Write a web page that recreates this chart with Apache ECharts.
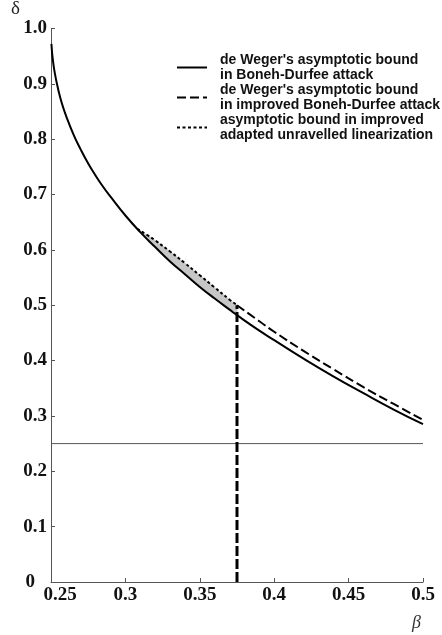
<!DOCTYPE html>
<html>
<head>
<meta charset="utf-8">
<script src="https://cdn.jsdelivr.net/npm/echarts@6/dist/echarts.min.js"></script>
<style>
html,body{margin:0;padding:0;background:#fff;}
#chart{width:442px;height:635px;}
</style>
</head>
<body>
<div id="chart"></div>
<script>
// de Weger's asymptotic bound in Boneh-Durfee attack (solid)
const betaSolid  = [0.2503, 0.2505, 0.251, 0.2525, 0.255, 0.2575, 0.26, 0.265, 0.27, 0.275, 0.28, 0.285, 0.29, 0.30, 0.31, 0.32, 0.33, 0.34, 0.35, 0.36, 0.37, 0.375, 0.39, 0.40, 0.42, 0.44, 0.46, 0.48, 0.50];
const deltaSolid = [0.972, 0.964, 0.949, 0.920, 0.888, 0.863, 0.843, 0.809, 0.781, 0.756, 0.734, 0.714, 0.696, 0.662, 0.632, 0.605, 0.579, 0.556, 0.533, 0.512, 0.492, 0.482, 0.454, 0.437, 0.403, 0.371, 0.341, 0.312, 0.285];
// de Weger's asymptotic bound in improved Boneh-Durfee attack (dashed)
const betaDashed  = [0.375, 0.39, 0.40, 0.42, 0.44, 0.46, 0.48, 0.50];
const deltaDashed = [0.500, 0.471, 0.452, 0.417, 0.384, 0.352, 0.322, 0.293];
// asymptotic bound in improved adapted unravelled linearization (dotted)
const betaDotted  = [0.308, 0.315, 0.32, 0.33, 0.34, 0.35, 0.36, 0.37, 0.375];
const deltaDotted = [0.638, 0.626, 0.617, 0.597, 0.576, 0.554, 0.532, 0.510, 0.500];
// lower edge of the shaded region (solid curve at the same beta values)
const deltaShadeLower = [0.638, 0.618, 0.605, 0.579, 0.556, 0.533, 0.512, 0.492, 0.482];
// reference lines
const betaVertical  = [0.375, 0.375];
const deltaVertical = [0, 0.500];
const betaHorizontal  = [0.25, 0.50];
const deltaHorizontal = [0.25, 0.25];
// legend names
const seriesNames = [
  "de Weger's asymptotic bound\nin Boneh-Durfee attack",
  "de Weger's asymptotic bound\nin improved Boneh-Durfee attack",
  "asymptotic bound in improved\nadapted unravelled linearization"
];

const pairs = (xs, ys) => xs.map((x, i) => [x, ys[i]]);
const serif = "'Liberation Serif', 'Times New Roman', serif";
const sans = "'Liberation Sans', Arial, sans-serif";

const chart = echarts.init(document.getElementById('chart'), null, {renderer: 'canvas'});
chart.setOption({
  animation: false,
  backgroundColor: '#fff',
  grid: {left: 51, right: 19, top: 26, bottom: 53, containLabel: false},
  legend: {
    orient: 'vertical',
    left: 176, top: 45,
    padding: 0,
    itemGap: -15,
    itemWidth: 30, itemHeight: 14,
    icon: 'inherit',
    itemStyle: {color: 'rgba(0,0,0,0)', borderWidth: 0},
    data: seriesNames,
    selectedMode: false,
    textStyle: {fontFamily: sans, fontWeight: 'bold', fontSize: 14, lineHeight: 15, color: '#111', padding: [15, 0, 0, 8]}
  },
  xAxis: {
    type: 'value', min: 0.25, max: 0.5, interval: 0.05,
    name: 'β', nameLocation: 'end', nameGap: -11,
    nameTextStyle: {fontFamily: serif, fontStyle: 'italic', fontSize: 18, color: '#333', verticalAlign: 'top', padding: [32, 0, 0, 0]},
    axisLine: {lineStyle: {color: '#555', width: 1}},
    axisTick: {inside: true, length: 4, lineStyle: {color: '#555'}},
    splitLine: {show: false},
    axisLabel: {
      margin: 4,
      fontFamily: serif, fontWeight: 'bold', fontSize: 19, color: '#111',
      formatter: v => { const s = String(+v.toFixed(2)); return Math.abs(v - 0.25) < 1e-9 ? '{first|' + s + '}' : s; },
      rich: {first: {fontFamily: serif, fontWeight: 'bold', fontSize: 19, color: '#111', padding: [0, 0, 0, 18]}}
    }
  },
  yAxis: {
    type: 'value', min: 0, max: 1, interval: 0.1,
    name: 'δ', nameLocation: 'end', nameGap: 2,
    nameTextStyle: {fontFamily: serif, fontSize: 19, color: '#222', align: 'right', padding: [0, 31, 0, 0]},
    axisLine: {show: true, lineStyle: {color: '#555', width: 1}},
    axisTick: {show: true, inside: true, length: 4, lineStyle: {color: '#555'}},
    splitLine: {show: false},
    axisLabel: {
      margin: 4,
      fontFamily: serif, fontWeight: 'bold', fontSize: 19, color: '#111',
      formatter: v => v === 0 ? '{zero|0}' : v.toFixed(1),
      rich: {zero: {fontFamily: serif, fontWeight: 'bold', fontSize: 19, color: '#111', padding: [0, 12, 0, 0]}}
    }
  },
  series: [
    {
      name: 'shade', type: 'custom', silent: true, z: 1,
      encode: {x: 0, y: [1, 2]},
      data: betaDotted.map((b, i) => [b, deltaShadeLower[i], deltaDotted[i]]),
      renderItem: (params, api) => {
        const i = params.dataIndexInside;
        if (i >= params.dataInsideLength - 1) return null;
        const b0 = api.value(0, i), l0 = api.value(1, i), u0 = api.value(2, i);
        const b1 = api.value(0, i + 1), l1 = api.value(1, i + 1), u1 = api.value(2, i + 1);
        return {
          type: 'polygon',
          shape: {points: [api.coord([b0, l0]), api.coord([b1, l1]), api.coord([b1, u1]), api.coord([b0, u0])]},
          style: {fill: '#c6c6c6', stroke: '#c6c6c6', lineWidth: 0.6}
        };
      }
    },
    {
      name: seriesNames[0], type: 'line', smooth: true, symbol: 'none', z: 3,
      lineStyle: {color: '#000', width: 2, type: 'solid'}, itemStyle: {color: '#000'},
      data: pairs(betaSolid, deltaSolid)
    },
    {
      name: seriesNames[1], type: 'line', smooth: true, symbol: 'none', z: 3,
      lineStyle: {color: '#000', width: 2, type: [9, 4]}, itemStyle: {color: '#000'},
      data: pairs(betaDashed, deltaDashed)
    },
    {
      name: seriesNames[2], type: 'line', smooth: true, symbol: 'none', z: 3,
      lineStyle: {color: '#000', width: 2, type: [3, 2.5]}, itemStyle: {color: '#000'},
      data: pairs(betaDotted, deltaDotted)
    },
    {
      name: 'vertical', type: 'line', symbol: 'none', silent: true, z: 4,
      lineStyle: {color: '#000', width: 3, type: [10, 3]},
      data: pairs(betaVertical, deltaVertical)
    },
    {
      name: 'horizontal', type: 'line', symbol: 'none', silent: true, z: 2,
      lineStyle: {color: '#555', width: 1},
      data: pairs(betaHorizontal, deltaHorizontal)
    }
  ]
});
</script>
</body>
</html>
